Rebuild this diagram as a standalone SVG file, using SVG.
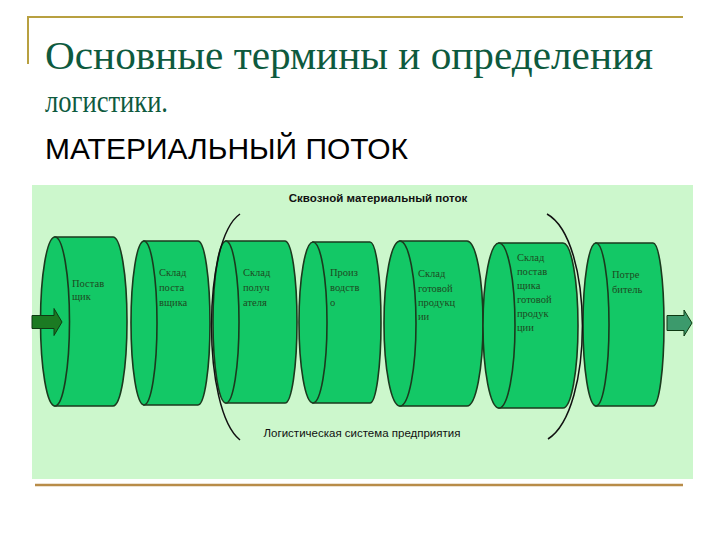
<svg xmlns="http://www.w3.org/2000/svg" width="720" height="540" viewBox="0 0 720 540">
<style>
.cyl{fill:#13c866;stroke:#1b3a1e;stroke-width:1.6}
.lbl{font-family:"Liberation Serif",serif;font-size:10.5px;fill:#1e4a22}
.br{fill:none;stroke:#111;stroke-width:1.5}
</style>
<rect x="0" y="0" width="720" height="540" fill="#ffffff"/>
<path d="M28,64 V17 H683" fill="none" stroke="#b8a040" stroke-width="2"/>
<text x="45" y="69" font-family="'Liberation Serif',serif" font-size="40" fill="#0e5a3e" textLength="608" lengthAdjust="spacingAndGlyphs">Основные термины и определения</text>
<text x="45" y="112" font-family="'Liberation Serif',serif" font-size="32" fill="#0e5a3e" textLength="123" lengthAdjust="spacingAndGlyphs">логистики.</text>
<text x="45" y="159" font-family="'Liberation Sans',sans-serif" font-size="29" fill="#000" textLength="363" lengthAdjust="spacingAndGlyphs">МАТЕРИАЛЬНЫЙ ПОТОК</text>
<rect x="32" y="185" width="661" height="294" fill="#ccf7cc"/>
<line x1="35" y1="485" x2="683" y2="485" stroke="#b88c48" stroke-width="2.5"/>
<text x="378" y="202" text-anchor="middle" font-family="'Liberation Sans',sans-serif" font-size="11.5" font-weight="bold" fill="#111">Сквозной материальный поток</text>
<text x="362" y="437" text-anchor="middle" font-family="'Liberation Sans',sans-serif" font-size="11.5" fill="#111">Логистическая система предприятия</text>
<g id="n1">
<path class="cyl" d="M55,237 H113 A14,84.5 0 0 1 113,406 H55 Z"/>
<ellipse class="cyl" cx="55" cy="321.5" rx="14.5" ry="84.5"/>
<text class="lbl"><tspan x="72" y="287">Постав</tspan><tspan x="72" y="300">щик</tspan></text>
</g>
<g id="n2">
<path class="cyl" d="M144,241 H198 A12,82 0 0 1 198,405 H144 Z"/>
<ellipse class="cyl" cx="144" cy="323" rx="13" ry="82"/>
<text class="lbl"><tspan x="159" y="276">Склад</tspan><tspan x="159" y="291">поста</tspan><tspan x="159" y="306">вщика</tspan></text>
</g>
<g id="n3">
<path class="cyl" d="M226,241 H285 A12,81 0 0 1 285,403 H226 Z"/>
<ellipse class="cyl" cx="226" cy="322" rx="13" ry="81"/>
<text class="lbl"><tspan x="243" y="276">Склад</tspan><tspan x="243" y="291">получ</tspan><tspan x="243" y="306">ателя</tspan></text>
</g>
<g id="n4">
<path class="cyl" d="M313,242 H370 A11,80.5 0 0 1 370,403 H313 Z"/>
<ellipse class="cyl" cx="313" cy="322.5" rx="14" ry="80.5"/>
<text class="lbl"><tspan x="330" y="276">Произ</tspan><tspan x="330" y="291">водств</tspan><tspan x="330" y="306">о</tspan></text>
</g>
<g id="n5">
<path class="cyl" d="M400,241 H467 A16,82.5 0 0 1 467,406 H400 Z"/>
<ellipse class="cyl" cx="400" cy="323.5" rx="16" ry="82.5"/>
<text class="lbl"><tspan x="418" y="277">Склад</tspan><tspan x="418" y="292">готовой</tspan><tspan x="418" y="306">продукц</tspan><tspan x="418" y="320">ии</tspan></text>
</g>
<g id="n6">
<path class="cyl" d="M499,243 H563 A15,82.5 0 0 1 563,408 H499 Z"/>
<ellipse class="cyl" cx="499" cy="325.5" rx="16" ry="82.5"/>
<text class="lbl"><tspan x="517" y="261">Склад</tspan><tspan x="517" y="275">постав</tspan><tspan x="517" y="289">щика</tspan><tspan x="517" y="303">готовой</tspan><tspan x="517" y="317">продук</tspan><tspan x="517" y="331">ции</tspan></text>
</g>
<g id="n7">
<path class="cyl" d="M596,243 H653 A11,81.5 0 0 1 653,406 H596 Z"/>
<ellipse class="cyl" cx="596" cy="324.5" rx="13" ry="81.5"/>
<text class="lbl"><tspan x="612" y="278">Потре</tspan><tspan x="612" y="293">битель</tspan></text>
</g>
<g id="connectors">
<path class="br" d="M240,214 C202,240 202,410 240,440"/>
<path class="br" d="M547,214 C594,240 594,410 548,439"/>
<path d="M32,315.5 H54 V308.5 L62,322 L54,335.5 V328.5 H32 Z" fill="#1b7a22" stroke="#0e3a12" stroke-width="1"/>
<path d="M667,315.5 H684 V310 L692,323 L684,336 V330.5 H667 Z" fill="#3c9a6c" stroke="#0e3a12" stroke-width="1"/>
</g>
</svg>
